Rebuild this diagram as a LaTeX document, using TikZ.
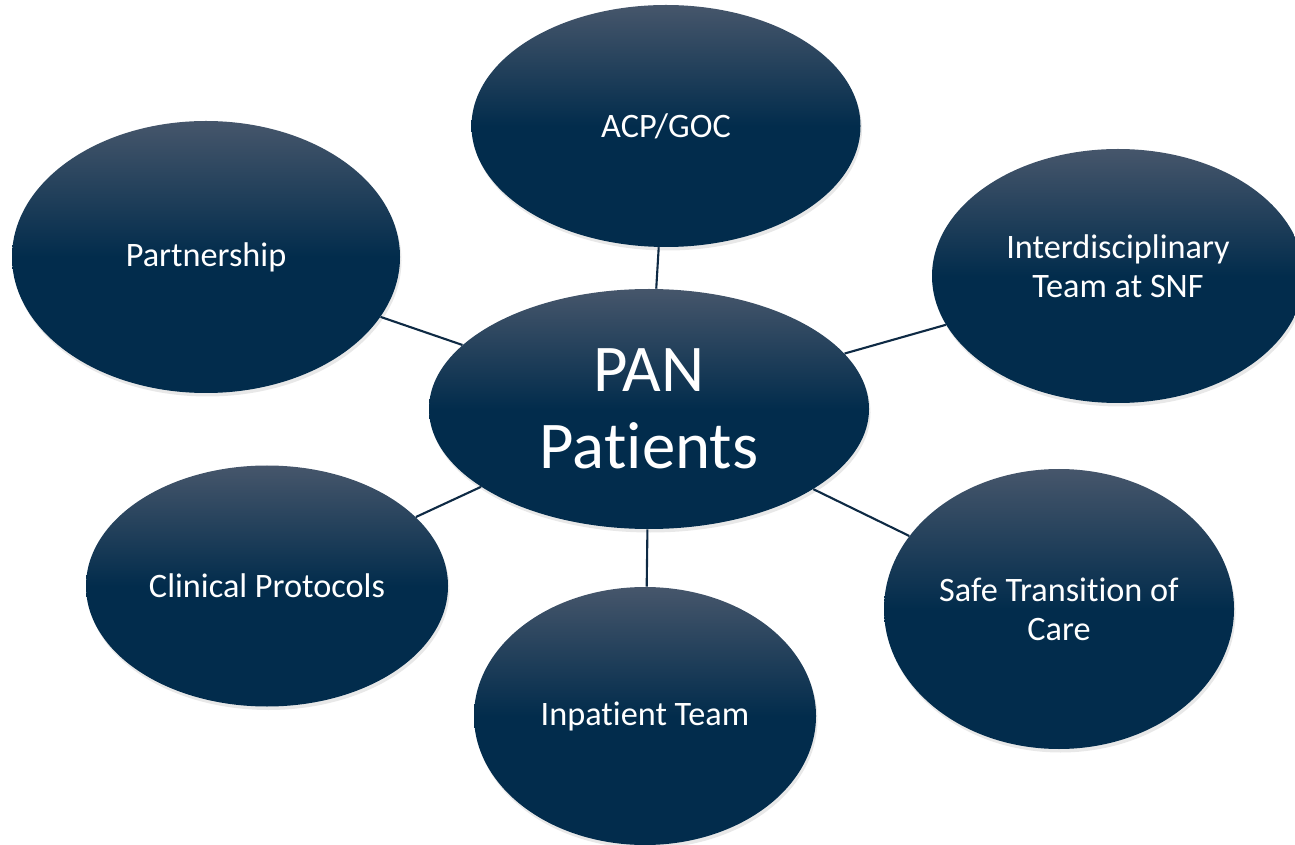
\documentclass[tikz,border=0pt]{standalone}
\usepackage{fontspec}
\setmainfont[Ligatures=NoCommon]{Carlito}
\usepackage{tikz}
\usetikzlibrary{shapes.geometric, shadows}

\definecolor{navytop}{HTML}{46566B}
\definecolor{navybot}{HTML}{022C4C}
\definecolor{linkcol}{HTML}{0E2A44}
\pgfdeclareverticalshading{bubbleshade}{100bp}{color(0bp)=(navybot); color(25bp)=(navybot);
    color(50bp)=(navybot); color(75bp)=(navytop); color(100bp)=(navytop)}

\begin{document}
\begin{tikzpicture}[
        bubble/.style={ellipse, inner sep=0pt, align=center, text=white,
            shading=bubbleshade,
            drop shadow={opacity=0.18, shadow xshift=0.03cm, shadow yshift=-0.07cm},
            font=\fontsize{19.5}{22.2}\selectfont},
        hub/.style={bubble, font=\fontsize{38}{43.5}\selectfont},
        link/.style={draw=linkcol, line width=1.2pt}
        ]
        \useasboundingbox (0,0) rectangle (25.9,-16.9);

        % Nodes
        \node[hub, minimum width=8.80cm, minimum height=4.80cm] (pan) at (12.98,-8.18) {PAN\\Patients};
        \node[bubble, minimum width=7.78cm, minimum height=4.84cm] (acp) at (13.32,-2.52) {ACP/GOC};
        \node[bubble, minimum width=7.76cm, minimum height=5.44cm] (partner) at (4.12,-5.14) {Partnership};
        \node[bubble, minimum width=7.44cm, minimum height=5.08cm, text depth=0.38cm] (idt) at (22.36,-5.52) {Interdisciplinary\\Team at SNF};
        \node[bubble, minimum width=7.24cm, minimum height=4.82cm] (clinical) at (5.34,-11.72) {Clinical Protocols};
        \node[bubble, minimum width=6.84cm, minimum height=5.16cm] (inpatient) at (12.90,-14.32) {Inpatient Team};
        \node[bubble, minimum width=7.00cm, minimum height=5.60cm] (transition) at (21.18,-12.18) {Safe Transition of\\Care};

        % Lines
        \draw[link] (pan) -- (acp);
        \draw[link] (pan) -- (partner);
        \draw[link] (pan) -- (idt);
        \draw[link] (pan) -- (clinical);
        \draw[link] (pan) -- (inpatient);
        \draw[link] (pan) -- (transition);

\end{tikzpicture}
\end{document}
